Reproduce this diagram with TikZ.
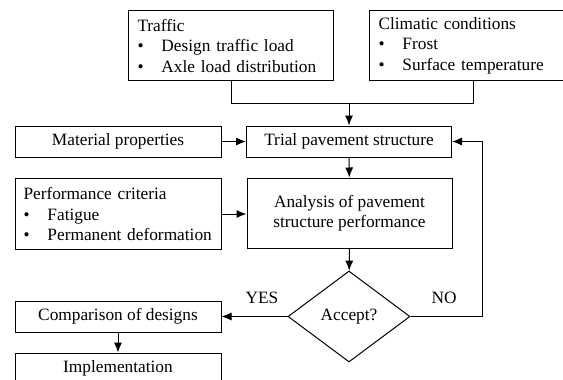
\documentclass[tikz,border=0pt]{standalone}
\usepackage{fontspec}
\setmainfont{Liberation Serif}
\usetikzlibrary{arrows.meta}
\usetikzlibrary{shapes.geometric}
\tikzset{
    flowbox/.style={
        draw, line width=1pt, minimum width=206pt, minimum height=31pt, inner sep=0pt, align=center
    },
    listbox/.style={
        draw, line width=1pt, anchor=north west, align=left, inner xsep=9pt, inner ysep=0pt
    },
    decision/.style={
        draw, diamond, line width=1pt, minimum width=122pt, minimum height=91pt, inner sep=0pt
    },
    flowline/.style={line width=1pt},
    flowarrow/.style={line width=1pt, -{Latex[length=10pt, width=8pt]}}
}
\newcommand{\bitem}[1]{\mbox{\makebox[24pt][l]{\textbullet}#1}}

\begin{document}
\begin{tikzpicture}[x=1pt, y=-1pt, font=\fontsize{17.3}{20.5}\selectfont]
	\useasboundingbox (0,0) rectangle (563,380);
	\fill[white] (0,0) rectangle (563,380);
	
	% inputs
	\node[listbox, text width=187pt, minimum height=70pt] (traffic) at (128,10)
		{Traffic\\\bitem{Design traffic load}\\\bitem{Axle load distribution}};
	\node[listbox, text width=190pt, minimum height=70pt] (climate) at (369,10)
		{Climatic conditions\\\bitem{Frost}\\\bitem{Surface temperature}};
	\node[listbox, inner xsep=8pt, text width=190pt, minimum height=71pt] (criteria) at (15,178)
		{Performance criteria\\\bitem{Fatigue}\\\bitem{Permanent deformation}};
	\node[flowbox] (material) at (118,141.5) {Material properties};
	
	% main chain
	\node[flowbox, minimum width=205pt] (trial) at (349,141.5) {Trial pavement structure};
	\node[flowbox, minimum width=205pt, minimum height=70pt] (analysis) at (349.5,213)
		{Analysis of pavement\\structure performance};
	\node[decision] (accept) at (349,316.5) {Accept?};
	\node[flowbox] (comparison) at (118,316.5) {Comparison of designs};
	\node[flowbox] (implementation) at (118,368.5) {Implementation};
	
	\node (yes) at (262,298) {YES};
	\node (no) at (444,298) {NO};
	
	\coordinate (join) at (349,103);
	\draw[flowline] (traffic.south) |- (join);
	\draw[flowline] (climate.south) |- (join);
	\draw[flowarrow] (join) -- (trial);
	\draw[flowarrow] (material) -- (trial);
	\draw[flowarrow] (trial) -- (analysis);
	\draw[flowarrow] (criteria.east) -- (criteria.east -| analysis.west);
	\draw[flowarrow] (analysis) -- (accept);
	\draw[flowarrow] (accept) -- (comparison);
	\draw[flowarrow] (comparison) -- (implementation);
	\draw[flowarrow] (accept.east) -- ++(72,0) |- (trial.east);
	
\end{tikzpicture}
\end{document}
